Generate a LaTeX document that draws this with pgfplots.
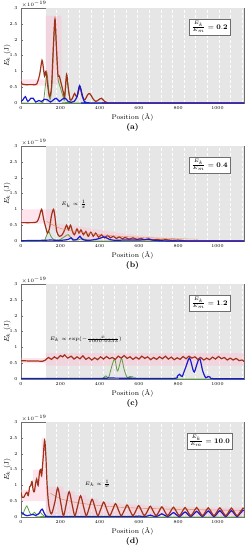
\documentclass[border=0pt]{standalone}
\usepackage{pgfplots}
\pgfplotsset{compat=1.18}
\definecolor{cbrown}{RGB}{160,50,25}
\definecolor{cgreen}{RGB}{95,160,70}
\definecolor{cblue}{RGB}{25,25,210}
\definecolor{corange}{RGB}{215,140,80}
\definecolor{cpink}{RGB}{255,185,210}
\definecolor{cgray}{RGB}{230,230,230}
\definecolor{caxis}{RGB}{110,110,110}
\pgfplotsset{panel/.style={
  scale only axis, width=223pt, height=95pt,
  xmin=0, xmax=1135, ymin=0, ymax=3,
  xtick={0,200,400,600,800,1000}, ytick={0,0.5,1,1.5,2,2.5,3},
  yticklabels={0,0.5,1,1.5,2,2.5,3},
  xticklabels={0,200,400,600,800,1000},
  tick align=inside, major tick length=2pt,
  tick label style={font=\fontsize{4.5}{5}\selectfont},
  xlabel={Position (\AA)}, ylabel={$E_k$ (J)},
  label style={font=\fontsize{6.8}{7.5}\selectfont},
  xlabel style={yshift=3pt},
  ylabel style={at={(rel axis cs:-0.062,0.5)}, anchor=center, rotate=0},
  axis line style={caxis},
  tick style={caxis},
}}
\begin{document}
\begin{tikzpicture}
% ---------------- (a)
\begin{axis}[panel, at={(0pt,0pt)}]
\addplot[fill=cgray, draw=none] coordinates {(127,0)(1135,0)(1135,3)(127,3)};
\addplot[ycomb, white, densely dashed, line width=0.7pt] coordinates {(181,3)(240,3)(299,3)(358,3)(417,3)(476,3)(535,3)(594,3)(653,3)(712,3)(771,3)(830,3)(889,3)(948,3)(1007,3)(1066,3)(1125,3)};
\addplot[fill=cpink, draw=none, opacity=0.4] coordinates {(0,0.55)(0,0.75)(125,0.75)(125,2.75)(205,2.75)(205,0.6)(125,0.6)(125,0.55)};
\addplot[cgreen, line width=0.8pt, smooth] coordinates {(0,0)(100,0)(115,0.1)(125,0.6)(132,0.95)(140,0.5)(148,0.1)(158,0.6)(165,1.8)(173,2.6)(180,1.8)(188,0.8)(200,0.5)(212,0.25)(222,0.1)(232,0.8)(242,0.4)(252,0.05)(265,0)(1135,0)};
\addplot[cbrown, line width=1.2pt, smooth] coordinates {(0,0.7)(5,0.6)(20,0.58)(40,0.58)(60,0.58)(80,0.6)(95,0.9)(107,1.35)(115,1.05)(120,0.85)(127,1.0)(135,0.6)(145,0.2)(155,0.5)(165,1.8)(173,2.65)(180,1.8)(188,0.9)(195,0.85)(205,0.6)(215,0.35)(222,0.2)(232,0.9)(240,0.5)(250,0.1)(262,0.15)(272,0.3)(285,0.2)(300,0.5)(312,0.2)(325,0.1)(338,0.25)(350,0.3)(365,0.15)(380,0.05)(395,0.1)(410,0.15)(425,0.05)(440,0.01)(460,0)(1135,0)};
\addplot[cblue, line width=1.2pt, smooth] coordinates {(0,0.05)(10,0.1)(22,0.2)(35,0.05)(50,0.15)(62,0.15)(75,0.03)(90,0.08)(105,0.05)(120,0.12)(135,0.1)(150,0.03)(165,0.1)(180,0.15)(195,0.05)(210,0.12)(225,0.15)(240,0.05)(255,0.02)(270,0.05)(285,0.2)(298,0.55)(310,0.3)(322,0.05)(340,0.01)(360,0)(1135,0)};
\node[draw=caxis, fill=white, inner sep=2.5pt, font=\fontsize{7.5}{8}\selectfont] at (axis cs:960,2.4) {$\frac{E_k}{E_m}=\mathbf{0.2}$};
\end{axis}
% ---------------- (b)
\begin{axis}[panel, at={(0pt,-138pt)}]
\addplot[fill=cgray, draw=none] coordinates {(127,0)(1135,0)(1135,3)(127,3)};
\addplot[ycomb, white, densely dashed, line width=0.7pt] coordinates {(181,3)(240,3)(299,3)(358,3)(417,3)(476,3)(535,3)(594,3)(653,3)(712,3)(771,3)(830,3)(889,3)(948,3)(1007,3)(1066,3)(1125,3)};
\addplot[fill=cpink, draw=none, opacity=0.4] coordinates {(0,0.55)(0,1.0)(180,1.0)(180,0.55)(300,0.45)(400,0.35)(500,0.25)(600,0.18)(700,0.12)(800,0.08)(800,0)(600,0.02)(400,0.05)(200,0.1)(180,0.3)(125,0.55)};
\addplot[cgreen, line width=0.8pt, smooth] coordinates {(0,0)(110,0)(125,0.1)(140,0.3)(152,0.15)(165,0.05)(180,0.02)(200,0.05)(225,0.15)(240,0.2)(255,0.1)(270,0.05)(290,0.03)(310,0.08)(325,0.05)(350,0.02)(400,0)(1135,0)};
\addplot[cbrown, line width=1.2pt, smooth] coordinates {(0,0.58)(20,0.58)(50,0.58)(80,0.6)(92,0.75)(105,1.0)(115,0.7)(125,0.45)(135,0.25)(145,0.4)(155,0.8)(165,1.0)(172,0.8)(182,0.3)(195,0.15)(210,0.2)(222,0.35)(232,0.5)(242,0.35)(252,0.5)(262,0.3)(272,0.2)(285,0.38)(295,0.25)(305,0.35)(318,0.2)(330,0.3)(342,0.15)(355,0.28)(368,0.15)(380,0.25)(395,0.12)(410,0.2)(425,0.1)(440,0.18)(455,0.1)(470,0.15)(485,0.08)(500,0.13)(515,0.07)(530,0.11)(550,0.06)(570,0.1)(590,0.05)(610,0.08)(630,0.04)(650,0.07)(670,0.03)(690,0.05)(710,0.03)(740,0.04)(770,0.02)(800,0.03)(830,0.01)(860,0)(1135,0)};
\addplot[cblue, line width=1.2pt, smooth] coordinates {(0,0.01)(100,0.02)(150,0.03)(200,0.02)(240,0.05)(255,0.1)(265,0.03)(285,0.05)(300,0.15)(312,0.05)(340,0.02)(380,0.05)(400,0.08)(420,0.13)(435,0.1)(450,0.05)(480,0.02)(520,0.03)(600,0.03)(640,0.05)(660,0.04)(700,0.01)(800,0)(1135,0)};
\addplot[corange, line width=0.4pt, smooth] coordinates {(130,0.62)(200,0.4)(300,0.28)(400,0.2)(500,0.15)(600,0.12)(700,0.09)(800,0.07)(900,0.06)};
\node[font=\fontsize{5.5}{6}\selectfont] at (axis cs:270,1.15) {$E_k\propto\frac{1}{x}$};
\node[draw=caxis, fill=white, inner sep=2.5pt, font=\fontsize{7.5}{8}\selectfont] at (axis cs:960,2.4) {$\frac{E_k}{E_m}=\mathbf{0.4}$};
\end{axis}
% ---------------- (c)
\begin{axis}[panel, at={(0pt,-276pt)}]
\addplot[fill=cgray, draw=none] coordinates {(127,0)(1135,0)(1135,3)(127,3)};
\addplot[ycomb, white, densely dashed, line width=0.7pt] coordinates {(181,3)(240,3)(299,3)(358,3)(417,3)(476,3)(535,3)(594,3)(653,3)(712,3)(771,3)(830,3)(889,3)(948,3)(1007,3)(1066,3)(1125,3)};
\addplot[fill=cpink, draw=none, opacity=0.4] coordinates {(0,0.5)(0,0.66)(125,0.66)(125,0.82)(1135,0.82)(1135,0.42)(125,0.42)(125,0.5)};
\addplot[cgreen, line width=0.8pt, smooth] coordinates {(0,0)(400,0)(420,0.05)(432,0.1)(446,0.05)(462,0.4)(477,0.63)(490,0.25)(500,0.4)(512,0.65)(525,0.3)(540,0.05)(553,0.08)(565,0.07)(580,0)(1135,0)};
\addplot[cblue, line width=1.2pt, smooth] coordinates {(0,0.02)(400,0.02)(450,0.03)(600,0.02)(780,0.02)(795,0.08)(807,0.15)(820,0.08)(840,0.4)(858,0.66)(875,0.3)(883,0.22)(892,0.4)(909,0.65)(925,0.25)(940,0.04)(952,0.08)(962,0.06)(980,0.01)(1135,0.01)};
\addplot[cbrown, line width=1.2pt, smooth] coordinates {(0,0.58)(40,0.57)(80,0.57)(110,0.56)(125,0.6)(140,0.68)(155,0.62)(170,0.7)(185,0.64)(200,0.74)(212,0.7)(222,0.76)(238,0.66)(255,0.72)(270,0.63)(285,0.7)(300,0.64)(315,0.73)(330,0.62)(345,0.68)(360,0.6)(375,0.67)(390,0.61)(405,0.7)(420,0.63)(435,0.71)(450,0.64)(465,0.68)(480,0.62)(495,0.72)(510,0.66)(525,0.74)(540,0.65)(555,0.7)(570,0.62)(585,0.69)(600,0.63)(615,0.72)(630,0.65)(645,0.7)(660,0.61)(675,0.68)(690,0.62)(705,0.7)(720,0.64)(735,0.72)(750,0.63)(765,0.69)(780,0.61)(795,0.67)(810,0.62)(825,0.71)(840,0.64)(855,0.72)(870,0.66)(885,0.7)(900,0.62)(915,0.68)(930,0.6)(945,0.66)(960,0.61)(975,0.69)(990,0.63)(1005,0.71)(1020,0.64)(1035,0.68)(1050,0.6)(1065,0.66)(1080,0.6)(1095,0.65)(1110,0.58)(1125,0.6)(1135,0.55)};
\node[font=\fontsize{5.5}{6}\selectfont] at (axis cs:330,1.25) {$E_k\propto\exp(-\frac{x}{1000.0333})$};
\node[draw=caxis, fill=white, inner sep=2.5pt, font=\fontsize{7.5}{8}\selectfont] at (axis cs:960,2.4) {$\frac{E_k}{E_m}=\mathbf{1.2}$};
\end{axis}
% ---------------- (d)
\begin{axis}[panel, at={(0pt,-414pt)}]
\addplot[fill=cgray, draw=none] coordinates {(127,0)(1135,0)(1135,3)(127,3)};
\addplot[ycomb, white, densely dashed, line width=0.7pt] coordinates {(181,3)(240,3)(299,3)(358,3)(417,3)(476,3)(535,3)(594,3)(653,3)(712,3)(771,3)(830,3)(889,3)(948,3)(1007,3)(1066,3)(1125,3)};
\addplot[fill=cpink, draw=none, opacity=0.4] coordinates {(0,0.5)(0,0.85)(60,0.85)(60,1.5)(105,1.5)(105,2.5)(125,2.5)(125,0.95)(216,0.95)(216,0.8)(274,0.8)(274,0.68)(332,0.68)(332,0.57)(391,0.57)(391,0.48)(451,0.48)(451,0.43)(510,0.43)(510,0.39)(628,0.39)(628,0.35)(746,0.35)(746,0.32)(900,0.32)(900,0.3)(1135,0.3)(1135,0.03)(125,0.08)(125,0.5)};
\addplot[cgreen, line width=0.8pt, smooth] coordinates {(0,0.05)(10,0.1)(20,0.25)(30,0.35)(40,0.2)(50,0.08)(60,0.1)(68,0.15)(78,0.08)(88,0.1)(98,0.15)(108,0.08)(120,0.02)(140,0)(1135,0)};
\addplot[corange, line width=0.4pt, smooth] coordinates {(150,0.75)(200,0.58)(250,0.5)(300,0.44)(400,0.36)(500,0.31)(600,0.28)(700,0.26)(800,0.24)(900,0.23)(1000,0.22)(1135,0.21)};
\addplot[cblue, line width=1.2pt, smooth] coordinates {(0,0.15)(8,0.12)(18,0.07)(30,0.04)(45,0.06)(60,0.08)(75,0.05)(90,0.1)(100,0.2)(108,0.25)(116,0.15)(126,0.04)(140,0.02)(300,0.02)(570,0.02)(599,0.03)(628,0.01)(643,0.03)(658,0.06)(673,0.03)(688,0.01)(702,0.05)(717,0.1)(732,0.05)(746,0.01)(761,0.07)(776,0.14)(791,0.07)(806,0.01)(820,0.08)(835,0.16)(850,0.08)(864,0.01)(879,0.09)(894,0.18)(909,0.09)(924,0.01)(938,0.1)(953,0.19)(968,0.1)(982,0.01)(997,0.1)(1012,0.2)(1027,0.1)(1042,0.01)(1056,0.1)(1071,0.2)(1086,0.1)(1100,0.01)(1115,0.11)(1130,0.21)(1135,0.2)};
\addplot[cbrown, line width=1.2pt, smooth] coordinates {(0,0.78)(6,0.62)(14,0.62)(22,0.72)(30,0.78)(37,0.68)(44,0.95)(50,1.0)(56,1.12)(62,0.85)(68,0.8)(74,1.05)(80,1.2)(87,1.0)(94,1.4)(100,1.5)(105,1.3)(112,1.8)(120,2.42)(126,2.0)(133,1.0)(142,0.35)(155,0.1)(172,0.46)(187,0.92)(202,0.46)(216,0.04)(230,0.4)(245,0.8)(260,0.4)(274,0.04)(288,0.34)(303,0.67)(318,0.34)(332,0.04)(347,0.29)(362,0.56)(377,0.29)(391,0.04)(406,0.25)(421,0.47)(436,0.25)(451,0.04)(466,0.22)(481,0.42)(496,0.22)(510,0.04)(525,0.2)(540,0.38)(555,0.2)(570,0.04)(584,0.19)(599,0.36)(614,0.19)(628,0.04)(643,0.18)(658,0.34)(673,0.18)(688,0.04)(702,0.17)(717,0.32)(732,0.17)(746,0.04)(761,0.17)(776,0.31)(791,0.17)(806,0.04)(820,0.16)(835,0.3)(850,0.16)(864,0.04)(879,0.16)(894,0.3)(909,0.16)(924,0.04)(938,0.16)(953,0.29)(968,0.16)(982,0.04)(997,0.16)(1012,0.29)(1027,0.16)(1042,0.04)(1056,0.15)(1071,0.28)(1086,0.15)(1100,0.04)(1115,0.15)(1130,0.28)(1135,0.27)};
\node[font=\fontsize{5.5}{6}\selectfont] at (axis cs:390,1.05) {$E_k\propto\frac{1}{x}$};
\node[draw=caxis, fill=white, inner sep=2.5pt, font=\fontsize{7.5}{8}\selectfont] at (axis cs:960,2.4) {$\frac{E_k}{E_m}=\mathbf{10.0}$};
\end{axis}
% captions and scale labels
\node[font=\bfseries\fontsize{8}{9}\selectfont] at (111.5pt,-24pt) {(a)};
\node[font=\bfseries\fontsize{8}{9}\selectfont] at (111.5pt,-162pt) {(b)};
\node[font=\bfseries\fontsize{8}{9}\selectfont] at (111.5pt,-300pt) {(c)};
\node[font=\bfseries\fontsize{8}{9}\selectfont] at (111.5pt,-438pt) {(d)};
\node[font=\fontsize{3.8}{4}\selectfont, anchor=south west, inner sep=0.5pt] at (0pt,95pt) {$\times10^{-19}$};
\node[font=\fontsize{3.8}{4}\selectfont, anchor=south west, inner sep=0.5pt] at (0pt,-43pt) {$\times10^{-19}$};
\node[font=\fontsize{3.8}{4}\selectfont, anchor=south west, inner sep=0.5pt] at (0pt,-181pt) {$\times10^{-19}$};
\node[font=\fontsize{3.8}{4}\selectfont, anchor=south west, inner sep=0.5pt] at (0pt,-319pt) {$\times10^{-19}$};
\pgfresetboundingbox
\path (-21pt,-447pt) rectangle (228pt,103pt);
\end{tikzpicture}
\end{document}
